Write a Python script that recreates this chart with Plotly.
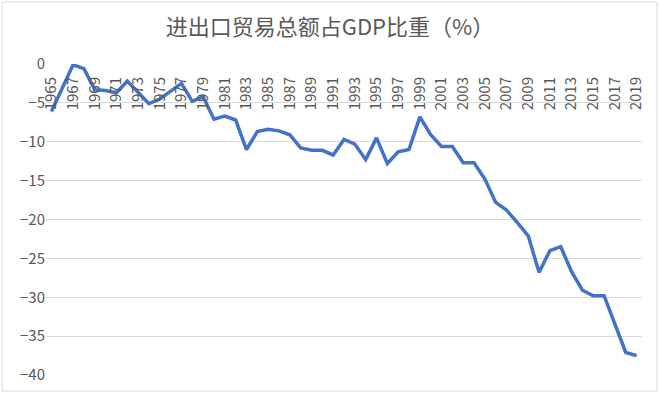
import plotly.graph_objects as go

years = list(range(1965, 2020))
values = [
    -6.1, -3.1, -0.1, -0.6, -3.3, -3.4, -3.7, -2.2, -3.6, -5.1,
    -4.5, -3.5, -2.5, -4.8, -4.2, -7.1, -6.7, -7.2, -11.0, -8.7,
    -8.4, -8.6, -9.1, -10.8, -11.1, -11.1, -11.7, -9.7, -10.3, -12.3,
    -9.5, -12.8, -11.3, -11.0, -6.8, -9.1, -10.6, -10.6, -12.7, -12.7,
    -14.8, -17.8, -18.8, -20.4, -22.1, -26.8, -24.0, -23.5, -26.7, -29.1,
    -29.8, -29.8, -33.3, -37.1, -37.5,
]
title_text = "进出口贸易总额占GDP比重（%）"
y_ticks = [0, -5, -10, -15, -20, -25, -30, -35, -40]

W, H = 660, 394
ml, mr, mt, mb = 46, 18, 64, 19
pw, ph = W - ml - mr, H - mt - mb

fig = go.Figure()
fig.add_trace(go.Scatter(
    x=years, y=values, mode="lines",
    line=dict(color="#4472C4", width=3.5),
    hoverinfo="x+y",
))

font_fam = "Noto Sans CJK SC, Noto Sans, sans-serif"
fig.update_layout(
    width=W, height=H,
    margin=dict(l=ml, r=mr, t=mt, b=mb, autoexpand=False),
    paper_bgcolor="white", plot_bgcolor="white",
    showlegend=False,
    title=dict(text=title_text, x=0.5, xanchor="center", y=1 - 27 / H, yanchor="middle",
               xref="container", yref="container", automargin=False,
               font=dict(family=font_fam, size=22, color="#595959")),
    xaxis=dict(
        range=[years[0] - 0.5, years[-1] + 0.5],
        tickmode="array",
        tickvals=years[::2],
        ticktext=[str(y) for y in years[::2]],
        tickangle=-90,
        anchor="free", position=1, side="bottom",
        showgrid=False, zeroline=False, showline=False,
        ticks="outside", ticklen=6, tickcolor="rgba(0,0,0,0)", automargin=False,
        tickfont=dict(family=font_fam, size=15, color="#595959"),
    ),
    yaxis=dict(
        range=[-40, 0],
        tickvals=y_ticks,
        showgrid=True, gridcolor="#D9D9D9", gridwidth=1,
        zeroline=False, showline=False, ticks="", automargin=False,
        tickfont=dict(family=font_fam, size=15, color="#595959"),
    ),
    shapes=[dict(
        type="rect", xref="paper", yref="paper",
        x0=(2 - ml) / pw, x1=(W - 3 - ml) / pw,
        y0=-(mb - 3) / ph, y1=(H - 2 - mb) / ph,
        line=dict(color="#D9D9D9", width=1), layer="above",
    )],
)

fig.write_html("out.html", config={"displayModeBar": False},
               post_script="document.body.style.margin='0';document.body.style.overflow='hidden';")
